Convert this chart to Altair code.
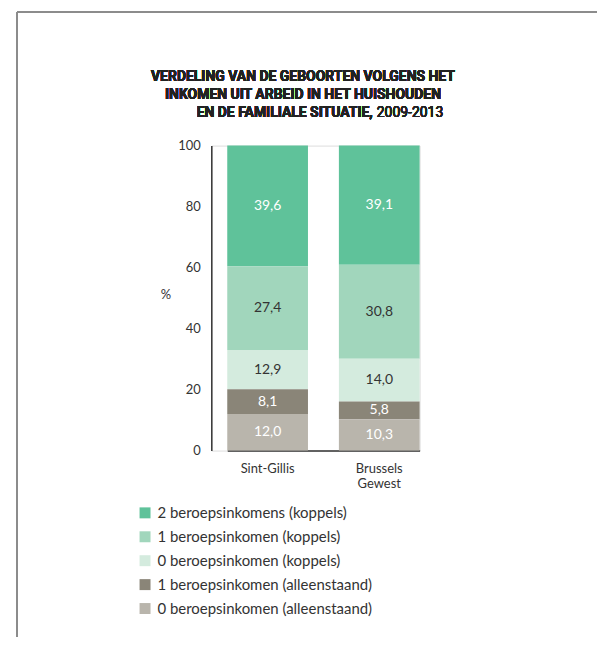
import altair as alt
import pandas as pd

categories = ["Sint-Gillis", "Brussels\nGewest"]
series = [
    "2 beroepsinkomens (koppels)",
    "1 beroepsinkomen (koppels)",
    "0 beroepsinkomen (koppels)",
    "1 beroepsinkomen (alleenstaand)",
    "0 beroepsinkomen (alleenstaand)",
]
values_sint_gillis = [39.6, 27.4, 12.9, 8.1, 12.0]
values_brussels = [39.1, 30.8, 14.0, 5.8, 10.3]
colors = ["#5fc29a", "#a1d6bc", "#d4ebde", "#8a8578", "#b9b5ac"]
label_colors = ["white", "#333333", "#333333", "white", "white"]

rows = []
for ci, (cat, vals) in enumerate(zip(categories, [values_sint_gillis, values_brussels])):
    for si, (s, v) in enumerate(zip(series, vals)):
        rows.append({"cat": cat, "series": s, "value": v,
                     "stackorder": len(series) - si, "lblcolor": label_colors[si]})
df = pd.DataFrame(rows)

FONT = "Lato"
TFONT = "Roboto"

base = alt.Chart(df).transform_stack(
    stack="value", groupby=["cat"], as_=["y0", "y1"],
    sort=[alt.SortField("stackorder", order="ascending")]
).transform_calculate(
    mid="(datum.y0 + datum.y1) / 2",
    lbl="replace(format(datum.value, '.1f'), '.', ',')"
)

x_enc = alt.X("cat:N", sort=categories, title=None,
              scale=alt.Scale(range=[16, 209], paddingInner=0.277, paddingOuter=0),
              axis=alt.Axis(labelExpr="split(datum.label, '\\n')", labelAngle=0,
                            ticks=False, labelPadding=12, labelFontSize=13,
                            labelLineHeight=15.5, labelColor="#333333", labelFont=FONT,
                            domainColor="#333333", domainWidth=1.5))

bars = base.mark_bar().encode(
    x=x_enc,
    y=alt.Y("y0:Q", scale=alt.Scale(domain=[0, 100]), title="%",
            axis=alt.Axis(values=[0, 20, 40, 60, 80, 100], grid=False, ticks=False,
                          labelPadding=11, labelFontSize=13, labelColor="#333333",
                          labelFont=FONT, domainColor="#333333", domainWidth=1.5,
                          titleAngle=0, titleX=-46, titleY=149, titleAlign="center",
                          titleBaseline="middle", titleFontSize=13, titleFont=FONT,
                          titleFontWeight="normal", titleColor="#333333")),
    y2="y1:Q",
    color=alt.Color("series:N", scale=alt.Scale(domain=series, range=colors),
                    legend=alt.Legend(title=None, orient="none", legendX=-74, legendY=361,
                                      symbolType="square", symbolSize=121,
                                      symbolStrokeWidth=0, labelFontSize=15,
                                      labelFont=FONT, labelColor="#333333",
                                      rowPadding=8, labelOffset=5, padding=0,
                                      labelLimit=400)),
)

text = base.mark_text(fontSize=14, font=FONT).encode(
    x=alt.X("cat:N", sort=categories),
    y=alt.Y("mid:Q"),
    text="lbl:N",
    color=alt.Color("lblcolor:N", scale=None),
)

TITLE_SIZE = 14
t1 = alt.Chart(df).mark_text(text="VERDELING VAN DE GEBOORTEN VOLGENS HET", fontSize=TITLE_SIZE,
                             fontWeight="bold", font=TFONT, color="#222222",
                             align="center", baseline="middle").encode(
    x=alt.value(92), y=alt.value(-69))
t2 = alt.Chart(df).mark_text(text="INKOMEN UIT ARBEID IN HET HUISHOUDEN", fontSize=TITLE_SIZE,
                             fontWeight="bold", font=TFONT, color="#222222",
                             align="center", baseline="middle").encode(
    x=alt.value(92), y=alt.value(-51))
t3a = alt.Chart(df).mark_text(text="EN DE FAMILIALE SITUATIE,", fontSize=TITLE_SIZE,
                              fontWeight="bold", font=TFONT, color="#222222",
                              align="right", baseline="middle").encode(
    x=alt.value(162), y=alt.value(-33))
t3b = alt.Chart(df).mark_text(text="2009-2013", fontSize=TITLE_SIZE, font=TFONT, color="#222222",
                              align="left", baseline="middle").encode(
    x=alt.value(166), y=alt.value(-33))

frame_left = alt.Chart(df).mark_rule(color="#8c8c8c", strokeWidth=1.5).encode(
    x=alt.value(-195), y=alt.value(-134), y2=alt.value(493))
frame_top = alt.Chart(df).mark_rule(color="#8c8c8c", strokeWidth=1.5).encode(
    x=alt.value(-195), x2=alt.value(387), y=alt.value(-134))

chart = alt.layer(bars, text, t1, t2, t3a, t3b, frame_left, frame_top).properties(
    width=209, height=306,
    padding={"left": 8, "top": 2, "right": 0, "bottom": 0},
).configure_view(stroke=None).configure(background="white")

chart.save("out.html", embed_options={"renderer": "svg", "actions": False})
